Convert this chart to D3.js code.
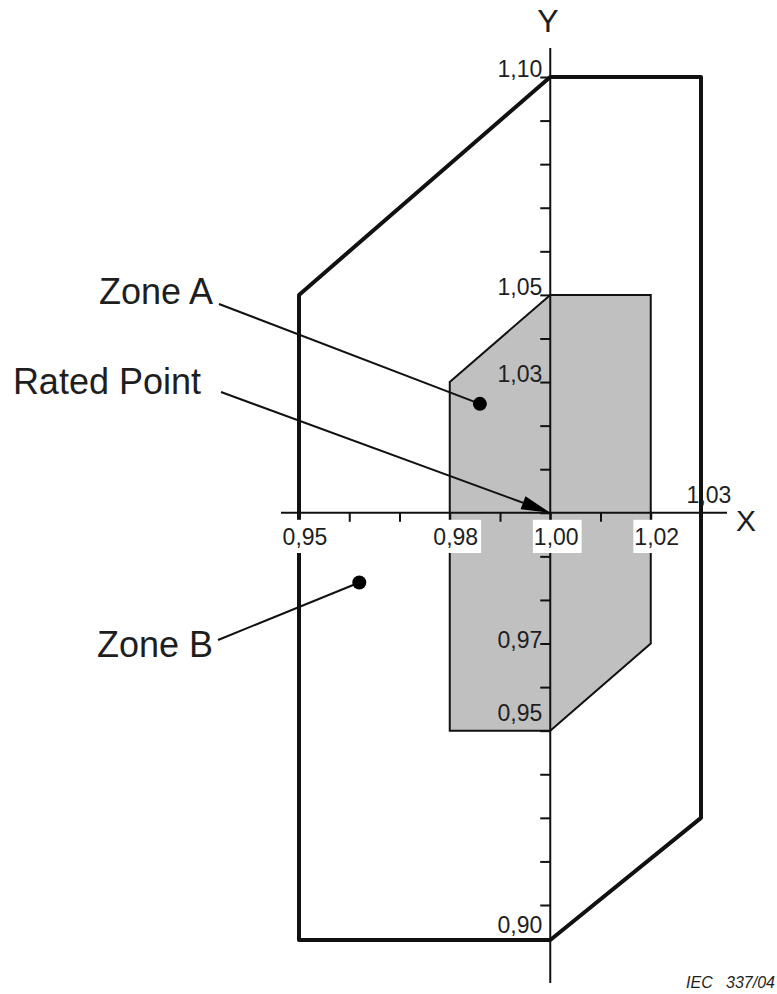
<!DOCTYPE html>
<html>
<head>
<script src="https://cdn.jsdelivr.net/npm/d3@7"></script>
<style>
  body { margin: 0; background: #fff; }
  text { font-family: "Liberation Sans", Arial, sans-serif; fill: #1e1e1e; }
</style>
</head>
<body>
<div class="chart"></div>
<script>
// zone outlines, [frequency, voltage] in per-unit
const zoneB = [[0.95, 0.90], [0.95, 1.05], [1.00, 1.10], [1.03, 1.10], [1.03, 0.93], [1.00, 0.90]];
const zoneA = [[0.98, 0.95], [0.98, 1.03], [1.00, 1.05], [1.02, 1.05], [1.02, 0.97], [1.00, 0.95]];

const xTickValues = [0.95, 0.96, 0.97, 0.98, 0.99, 1.00, 1.01, 1.02, 1.03];
const yTickValues = [0.90, 0.91, 0.92, 0.93, 0.94, 0.95, 0.96, 0.97, 0.98, 0.99, 1.00,
                     1.01, 1.02, 1.03, 1.04, 1.05, 1.06, 1.07, 1.08, 1.09, 1.10];

const xLabelValues = [0.95, 0.98, 1.00, 1.02];
const xLabelTexts = ["0,95", "0,98", "1,00", "1,02"];
const yLabelValues = [1.10, 1.05, 1.03, 0.97, 0.95, 0.90];
const yLabelTexts = ["1,10", "1,05", "1,03", "0,97", "0,95", "0,90"];

const ratedPoint = [1.00, 1.00];
const zoneADot = [0.986, 1.025];
const zoneBDot = [0.962, 0.984];

const width = 777, height = 994;

const x = d3.scaleLinear().domain([0.95, 1.03]).range([299, 701]);
// the printed figure is a little squashed below 0,91
const y = d3.scaleLinear().domain([0.90, 0.91, 1.10]).range([940, 905, 77]);

const svg = d3.select(".chart").append("svg")
    .attr("width", width).attr("height", height);

const line = d3.line().x(d => x(d[0])).y(d => y(d[1]));

// zone A fill + outline
svg.append("path")
    .attr("d", line(zoneA) + "Z")
    .attr("fill", "#c0c0c0")
    .attr("stroke", "#111")
    .attr("stroke-width", 2);

// zone B outline
svg.append("path")
    .attr("d", line(zoneB) + "Z")
    .attr("fill", "none")
    .attr("stroke", "#111")
    .attr("stroke-width", 4)
    .attr("stroke-linejoin", "round");

// axes lines through the rated point
svg.append("line")
    .attr("x1", 281).attr("x2", 727)
    .attr("y1", y(1)).attr("y2", y(1))
    .attr("stroke", "#111").attr("stroke-width", 2);
svg.append("line")
    .attr("x1", x(1)).attr("x2", x(1))
    .attr("y1", 48).attr("y2", 983)
    .attr("stroke", "#111").attr("stroke-width", 2);

// ticks
const gx = svg.append("g")
    .attr("transform", `translate(0,${y(1)})`)
    .call(d3.axisBottom(x).tickValues(xTickValues).tickSize(9).tickFormat(""));
const gy = svg.append("g")
    .attr("transform", `translate(${x(1)},0)`)
    .call(d3.axisLeft(y).tickValues(yTickValues).tickSize(10).tickFormat(""));
[gx, gy].forEach(g => {
    g.select(".domain").remove();
    g.selectAll(".tick line").attr("stroke", "#111").attr("stroke-width", 2);
});

// x labels with white boxes
xLabelValues.forEach((v, i) => {
    const g = svg.append("g");
    const t = g.append("text")
        .attr("x", x(v) + 6).attr("y", 545)
        .attr("text-anchor", "middle")
        .attr("font-size", 23)
        .text(xLabelTexts[i]);
    const b = t.node().getBBox();
    g.insert("rect", "text")
        .attr("x", b.x - 1).attr("y", y(1) + 7)
        .attr("width", b.width + 4).attr("height", b.y + b.height + 3 - (y(1) + 7))
        .attr("fill", "#fff");
});
svg.append("text")
    .attr("x", x(1.03) + 8).attr("y", 503)
    .attr("text-anchor", "middle")
    .attr("font-size", 23)
    .text("1,03");

// y labels
const yNudge = {"0,97": 4, "0,95": -10, "0,90": -7};
yLabelValues.forEach((v, i) => {
    svg.append("text")
        .attr("x", x(1) - 8).attr("y", y(v) + (yNudge[yLabelTexts[i]] || 0))
        .attr("text-anchor", "end")
        .attr("font-size", 23)
        .text(yLabelTexts[i]);
});

// axis names
svg.append("text").attr("x", 548).attr("y", 32).attr("text-anchor", "middle")
    .attr("font-size", 32).text("Y");
svg.append("text").attr("x", 746).attr("y", 531).attr("text-anchor", "middle")
    .attr("font-size", 30).text("X");

// callouts
const callouts = [
    {label: "Zone A", tx: 213, ty: 304, lx: 219, ly: 304, pt: zoneADot, dot: true},
    {label: "Rated Point", tx: 201, ty: 394, lx: 221, ly: 392, pt: ratedPoint, dot: false},
    {label: "Zone B", tx: 213, ty: 657, lx: 218, ly: 640, pt: zoneBDot, dot: true}
];

callouts.forEach(c => {
    svg.append("text")
        .attr("x", c.tx).attr("y", c.ty)
        .attr("text-anchor", "end")
        .attr("font-size", 36)
        .text(c.label);
    const px = x(c.pt[0]), py = y(c.pt[1]);
    if (c.dot) {
        svg.append("line")
            .attr("x1", c.lx).attr("y1", c.ly).attr("x2", px).attr("y2", py)
            .attr("stroke", "#111").attr("stroke-width", 2);
        svg.append("circle").attr("cx", px).attr("cy", py).attr("r", 7).attr("fill", "#000");
    } else {
        const ang = Math.atan2(py - c.ly, px - c.lx);
        const len = 29, hw = 7;
        const bx = px - len * Math.cos(ang), by = py - len * Math.sin(ang);
        svg.append("line")
            .attr("x1", c.lx).attr("y1", c.ly).attr("x2", bx).attr("y2", by)
            .attr("stroke", "#111").attr("stroke-width", 2);
        const nx = -Math.sin(ang) * hw, ny = Math.cos(ang) * hw;
        svg.append("path")
            .attr("d", `M${px},${py}L${bx + nx},${by + ny}L${bx - nx},${by - ny}Z`)
            .attr("fill", "#000");
    }
});

// figure reference
svg.append("text")
    .attr("x", 775).attr("y", 988)
    .attr("text-anchor", "end")
    .attr("font-size", 16)
    .attr("font-style", "italic")
    .style("white-space", "pre")
    .attr("fill", "#333")
    .text("IEC   337/04");
</script>
</body>
</html>
